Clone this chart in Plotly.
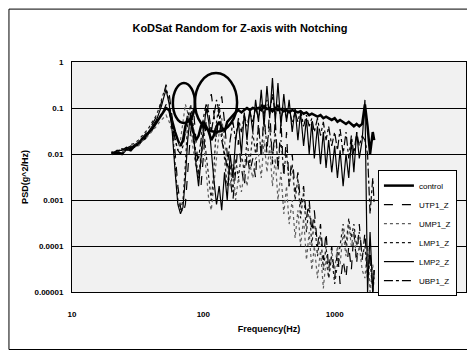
import plotly.graph_objects as go

freq = [20, 22, 24, 26, 28, 30, 32, 34, 36, 38, 40, 42, 44, 46, 48, 50, 52, 55, 58, 61,
        64, 67, 70, 73, 76, 80, 84, 88, 92, 96, 100, 105, 110, 115, 120, 126, 132, 138,
        145, 152, 160, 168, 176, 185, 195, 205, 215, 226, 238, 250, 263, 276, 290, 305,
        320, 336, 353, 370, 390, 410, 430, 450, 475, 500, 525, 550, 580, 610, 640, 670,
        700, 740, 780, 820, 860, 900, 950, 1000, 1050, 1100, 1160, 1220, 1280, 1340, 1400,
        1470, 1540, 1620, 1700, 1780, 1860, 1950, 2000]

control = [0.010, 0.011, 0.010, 0.013, 0.012, 0.015, 0.016, 0.020, 0.022, 0.028, 0.032, 0.040,
           0.048, 0.058, 0.070, 0.085, 0.10,
           0.09, 0.05, 0.03, 0.02, 0.015, 0.02, 0.04, 0.06, 0.05, 0.03, 0.02, 0.025, 0.04,
           0.05, 0.04, 0.03, 0.02, 0.025, 0.04, 0.05, 0.04, 0.03, 0.05, 0.06, 0.07, 0.08, 0.09,
           0.08, 0.09, 0.10, 0.09, 0.10, 0.095,
           0.10, 0.09, 0.11, 0.095, 0.10, 0.085, 0.10, 0.09, 0.095, 0.085, 0.09, 0.08, 0.09,
           0.085, 0.08, 0.085, 0.075, 0.08, 0.07, 0.075, 0.07, 0.065, 0.07, 0.06, 0.065, 0.06,
           0.055, 0.06, 0.05, 0.055, 0.05, 0.045, 0.05, 0.045, 0.04, 0.045, 0.04, 0.045,
           0.12, 0.04, 0.01, 0.03, 0.02]

utp1_z = [0.011, 0.010, 0.012, 0.013, 0.015, 0.014, 0.018, 0.022, 0.026, 0.032, 0.040, 0.05,
          0.065, 0.09, 0.13, 0.2, 0.32,
          0.2, 0.06, 0.01, 0.002, 0.0007, 0.0005, 0.0008, 0.004, 0.03, 0.1, 0.02, 0.004, 0.002,
          0.01, 0.05, 0.15, 0.2, 0.08, 0.02, 0.1, 0.18, 0.05, 0.01, 0.003, 0.001, 0.004, 0.02,
          0.005, 0.002, 0.01, 0.004, 0.008, 0.003,
          0.05, 0.008, 0.08, 0.01, 0.1, 0.006, 0.06, 0.004, 0.05, 0.003, 0.03, 0.002, 0.01,
          0.0015, 0.004, 0.0008, 0.002, 0.0004, 0.001, 0.0002, 0.0006, 0.0001, 0.0003, 0.00005,
          0.0002, 0.00003, 0.0001, 0.00002, 0.00008, 0.000015, 0.00005, 0.00002, 0.0001,
          0.00003, 0.0002, 0.00004, 0.0003, 0.00005,
          0.0002, 0.00002, 0.00008, 0.00001, 0.00003]

ump1_z = [0.010, 0.012, 0.011, 0.012, 0.014, 0.016, 0.015, 0.019, 0.021, 0.025, 0.028, 0.033,
          0.04, 0.048, 0.055, 0.06, 0.07,
          0.05, 0.03, 0.02, 0.012, 0.02, 0.05, 0.12, 0.08, 0.03, 0.01, 0.005, 0.003, 0.006,
          0.02, 0.004, 0.001, 0.0006, 0.002, 0.01, 0.03, 0.06, 0.02, 0.005, 0.002, 0.006, 0.001,
          0.003, 0.0015, 0.004, 0.002, 0.006, 0.003, 0.008,
          0.01, 0.003, 0.02, 0.004, 0.015, 0.002, 0.008, 0.001, 0.004, 0.0005, 0.002, 0.0003,
          0.001, 0.00015, 0.0006, 0.0001, 0.0004, 0.00005, 0.0002, 0.00003, 0.0001, 0.00002,
          0.00008, 0.000012, 0.00005, 0.00002, 0.00008, 0.00003, 0.0001, 0.00004, 0.0002,
          0.00006, 0.0003, 0.0001, 0.0002, 0.00005, 0.0001, 0.00003,
          0.00002, 0.0001, 0.00001, 0.00004, 0.00002]

lmp1_z = [0.011, 0.011, 0.013, 0.012, 0.016, 0.017, 0.02, 0.024, 0.03, 0.035, 0.045, 0.055,
          0.07, 0.1, 0.15, 0.22, 0.28,
          0.15, 0.04, 0.006, 0.001, 0.0006, 0.001, 0.006, 0.05, 0.12, 0.04, 0.008, 0.003, 0.01,
          0.04, 0.01, 0.003, 0.001, 0.004, 0.05, 0.12, 0.03, 0.008, 0.002, 0.006, 0.0015, 0.008,
          0.003, 0.01, 0.004, 0.02, 0.006, 0.03, 0.01,
          0.04, 0.01, 0.06, 0.015, 0.04, 0.008, 0.03, 0.006, 0.02, 0.004, 0.012, 0.002, 0.006,
          0.001, 0.003, 0.0004, 0.0015, 0.0002, 0.0008, 0.0001, 0.0004, 0.00006, 0.0002,
          0.00003, 0.0001, 0.00002, 0.00006, 0.000015, 0.00004, 0.0001, 0.0003, 0.0001, 0.0004,
          0.00015, 0.0003, 0.0001, 0.0002, 0.00006,
          0.0001, 0.00002, 0.00005, 0.00001, 0.00002]

lmp2_z = [0.010, 0.012, 0.012, 0.014, 0.013, 0.016, 0.018, 0.021, 0.025, 0.03, 0.036, 0.045,
          0.055, 0.075, 0.11, 0.17, 0.25,
          0.12, 0.03, 0.004, 0.0008, 0.0005, 0.0007, 0.003, 0.02, 0.08, 0.03, 0.006, 0.002, 0.008,
          0.03, 0.1, 0.05, 0.01, 0.003, 0.0008, 0.002, 0.0006, 0.004, 0.001, 0.01, 0.003, 0.02,
          0.05, 0.01, 0.08, 0.02, 0.1, 0.03, 0.15,
          0.05, 0.25, 0.04, 0.3, 0.06, 0.45, 0.05, 0.35, 0.04, 0.2, 0.05, 0.15, 0.03, 0.1, 0.02,
          0.08, 0.015, 0.06, 0.01, 0.05, 0.008, 0.04, 0.006, 0.03, 0.005, 0.02, 0.004, 0.015,
          0.003, 0.012, 0.002, 0.01, 0.003, 0.02, 0.004, 0.03, 0.008, 0.02,
          0.15, 0.00001, 0.0002, 0.00001, 0.00003]

ubp1_z = [0.011, 0.010, 0.013, 0.012, 0.014, 0.015, 0.017, 0.02, 0.024, 0.028, 0.034, 0.04,
          0.05, 0.06, 0.075, 0.09, 0.12,
          0.08, 0.04, 0.02, 0.012, 0.01, 0.015, 0.03, 0.08, 0.06, 0.02, 0.01, 0.008, 0.02,
          0.06, 0.12, 0.08, 0.03, 0.06, 0.15, 0.08, 0.02, 0.01, 0.005, 0.02, 0.05, 0.02, 0.06,
          0.03, 0.07, 0.04, 0.08, 0.05, 0.1,
          0.06, 0.12, 0.07, 0.15, 0.08, 0.2, 0.07, 0.12, 0.06, 0.1, 0.06, 0.09, 0.05, 0.08, 0.05,
          0.09, 0.04, 0.07, 0.04, 0.06, 0.03, 0.06, 0.025, 0.05, 0.02, 0.04, 0.015, 0.03, 0.012,
          0.035, 0.01, 0.03, 0.008, 0.025, 0.01, 0.03, 0.015, 0.025,
          0.02, 0.01, 0.0005, 0.003, 0.0008]

y_tickvals = [1, 0.1, 0.01, 0.001, 0.0001, 0.00001]
y_ticktext = ["<b>1</b>", "<b>0.1</b>", "<b>0.01</b>", "<b>0.001</b>", "<b>0.0001</b>", "<b>0.00001</b>"]
x_tickvals = [10, 100, 1000, 10000]
x_ticktext = ["<b>10</b>", "<b>100</b>", "<b>1000</b>", "<b>10000</b>"]

series = [
    ("control", control, dict(color="black", width=2.5, dash="solid")),
    ("UTP1_Z", utp1_z, dict(color="black", width=1.2, dash="dash")),
    ("UMP1_Z", ump1_z, dict(color="#5e5e5e", width=1.2, dash="dot")),
    ("LMP1_Z", lmp1_z, dict(color="#1a1a1a", width=1.2, dash="dot")),
    ("LMP2_Z", lmp2_z, dict(color="black", width=1.2, dash="solid")),
    ("UBP1_Z", ubp1_z, dict(color="black", width=1.2, dash="dashdot")),
]

fig = go.Figure()
for name, vals, line in series:
    fig.add_trace(go.Scatter(x=freq, y=vals, mode="lines", name=name, line=line))

font_family = "Liberation Sans, Arial, sans-serif"

# page body has an 8px margin; figure sized so the plot lands where the reference has it
W, H = 467, 347
fig.update_layout(
    width=W, height=H,
    margin=dict(l=64, r=9, t=54, b=63),
    paper_bgcolor="white",
    plot_bgcolor="#f1f1f1",
    font=dict(family=font_family, size=9, color="black"),
    title=dict(text="<b>KoDSat Random for Z-axis with Notching</b>",
               x=(240 - 8) / W, xanchor="center", y=1 - (28 - 8) / H, yanchor="middle",
               font=dict(size=11, family=font_family, color="black")),
    showlegend=True,
    legend=dict(x=0.977, xanchor="right", y=0.53, yanchor="top",
                bgcolor="white", bordercolor="black", borderwidth=1,
                font=dict(size=8, family=font_family, color="black"),
                itemwidth=30, tracegroupgap=0),
    shapes=[
        dict(type="circle", xref="paper", yref="paper",
             x0=0.256, x1=0.312, y0=0.735, y1=0.909,
             line=dict(color="black", width=2.5)),
        dict(type="circle", xref="paper", yref="paper",
             x0=0.312, x1=0.419, y0=0.696, y1=0.952,
             line=dict(color="black", width=2.5)),
        dict(type="rect", xref="paper", yref="paper",
             x0=-0.16, x1=1.018, y0=-0.25, y1=1.23,
             line=dict(color="black", width=1)),
    ],
)

fig.update_xaxes(
    type="log", range=[1, 4],
    tickvals=x_tickvals, ticktext=x_ticktext,
    showgrid=False, zeroline=False,
    showline=True, linecolor="black", linewidth=1, mirror=True,
    ticks="", ticklabelstandoff=14,
    tickfont=dict(size=8, family=font_family, color="black"),
    title=dict(text="<b>Frequency(Hz)</b>", standoff=8,
               font=dict(size=9, family=font_family, color="black")),
)
fig.update_yaxes(
    type="log", range=[-5, 0],
    tickvals=y_tickvals, ticktext=y_ticktext,
    showgrid=True, gridcolor="black", gridwidth=1, zeroline=False,
    showline=True, linecolor="black", linewidth=1, mirror=True,
    ticks="", ticklabelstandoff=6,
    tickfont=dict(size=8, family=font_family, color="black"),
    title=dict(text="<b>PSD(g^2/Hz)</b>", standoff=4,
               font=dict(size=9, family=font_family, color="black")),
)

fig.write_html("out.html")
